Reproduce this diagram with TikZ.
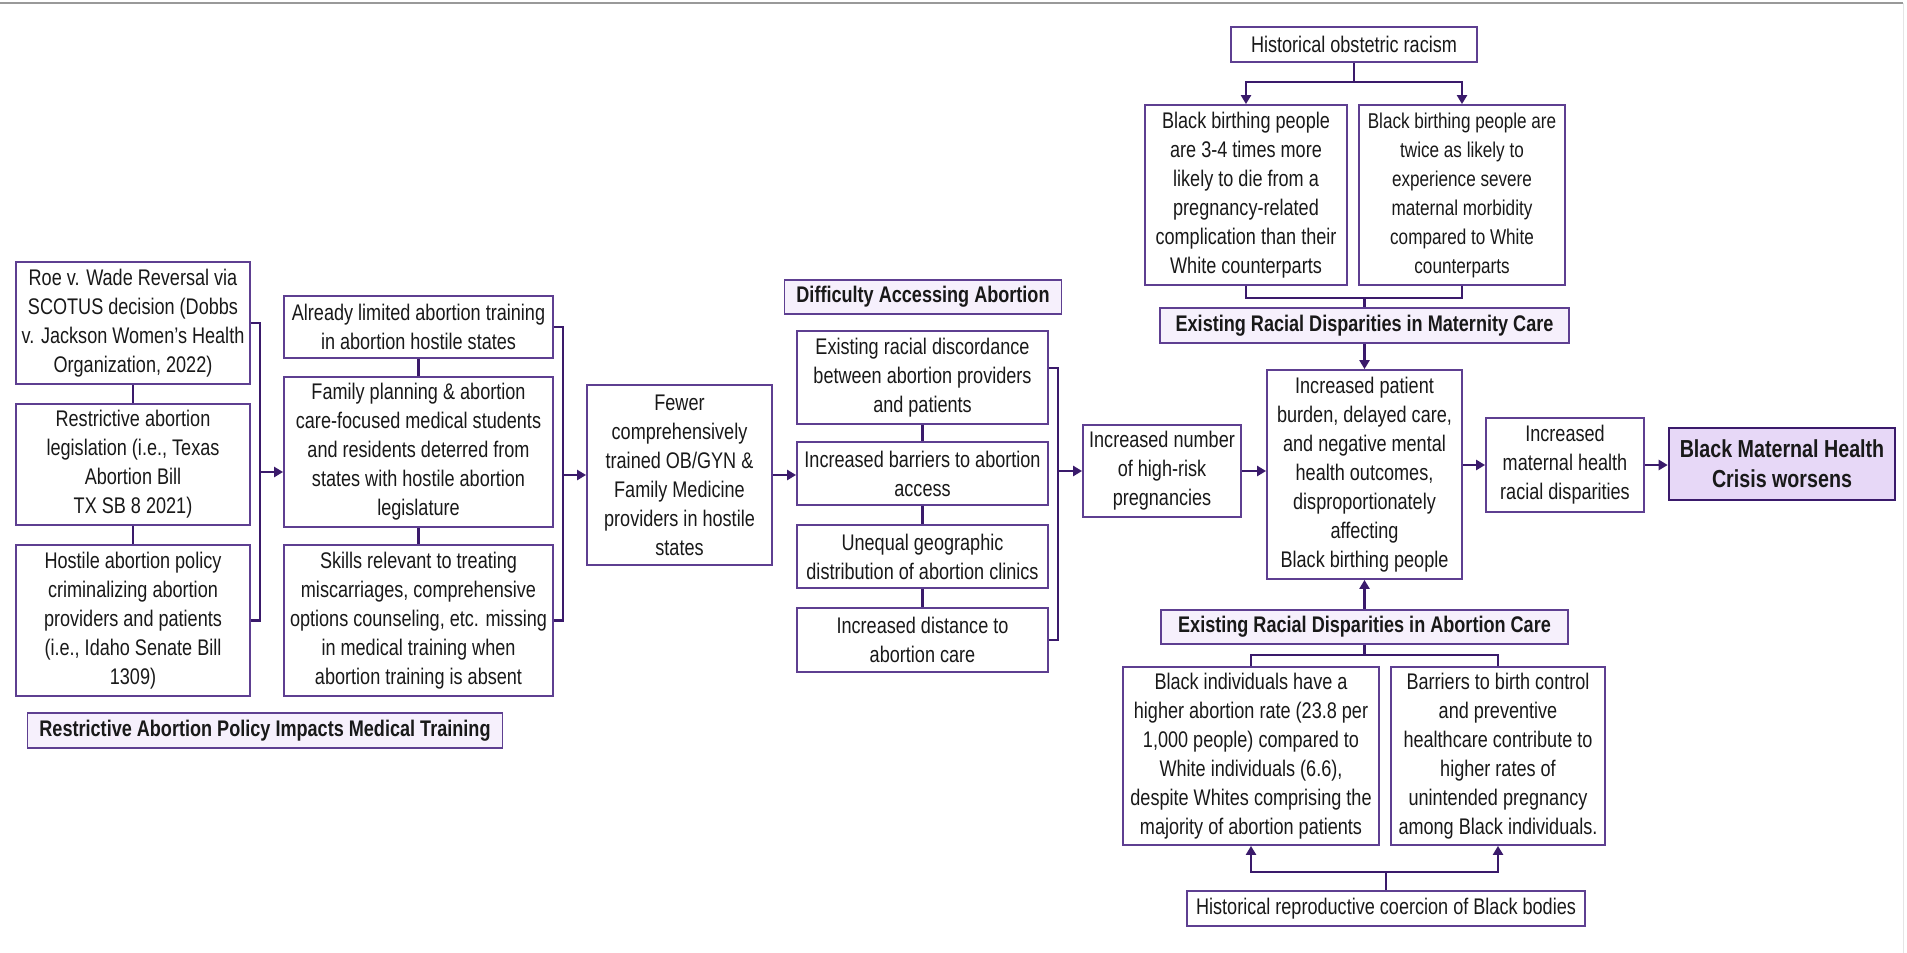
\documentclass[tikz,border=0pt]{standalone}
\usepackage{fontspec}
\setmainfont{Liberation Sans}[FakeStretch=0.8]
\usetikzlibrary{arrows.meta}
\definecolor{boxc}{HTML}{5E3F91}
\definecolor{conc}{HTML}{3A1A6B}
\definecolor{hdrfill}{HTML}{F6F0FC}
\definecolor{finfill}{HTML}{E7D8F7}
\tikzset{
 box/.style={draw=boxc, line width=0.9pt, fill=white, align=center, inner xsep=1pt, inner ysep=1pt, font=\fontsize{11.3}{14.5}\selectfont, text=black!90},
 hdr/.style={fill=hdrfill, font=\bfseries\fontsize{11.3}{14.5}\selectfont, inner xsep=6pt},
 fin/.style={fill=finfill, draw=conc, line width=1.3pt, font=\bfseries\fontsize{12.3}{15}\selectfont},
 tight/.style={font=\fontsize{10.7}{14.5}\selectfont},
 conn/.style={draw=conc, line width=1.4pt},
 arr/.style={conn, -{Triangle[length=4.5pt,width=5pt]}},
}
\newcommand\bx[7]{%
\pgfmathsetmacro\bxw{(#4-#2)*0.5}%
\pgfmathsetmacro\bxh{(#5-#3)*0.5}%
\pgfmathsetmacro\bxcx{(#2+#4)/2}%
\pgfmathsetmacro\bxcy{(#3+#5)/2}%
\node[box,#6,minimum width=\bxw pt,minimum height=\bxh pt] (#1) at (\bxcx,\bxcy) {#7};}
\begin{document}
\begin{tikzpicture}[x=0.5pt,y=-0.5pt]
\useasboundingbox (0,0) rectangle (1907,953);
\fill[white] (0,0) rectangle (1907,953);
\draw[gray!80, line width=1.3pt] (0,3) -- (1903,3);
\draw[black!10, line width=0.5pt] (1903,3) -- (1903,953);

% left column
\bx{roe}{16}{262}{250}{384}{}{Roe v. Wade Reversal via\\SCOTUS decision (Dobbs\\v. Jackson Women's Health\\Organization, 2022)}
\bx{restr}{16}{404}{250}{525}{}{Restrictive abortion\\legislation (i.e., Texas\\Abortion Bill\\TX SB 8 2021)}
\bx{hostile}{16}{545}{250}{696}{}{Hostile abortion policy\\criminalizing abortion\\providers and patients\\(i.e., Idaho Senate Bill\\1309)}
\bx{foot}{33}{713}{497}{748}{hdr}{Restrictive Abortion Policy Impacts Medical Training}

% second column
\bx{already}{284}{296}{553}{358}{}{Already limited abortion training\\in abortion hostile states}
\bx{family}{284}{377}{553}{527}{}{Family planning \& abortion\\care-focused medical students\\and residents deterred from\\states with hostile abortion\\legislature}
\bx{skills}{284}{545}{553}{696}{}{Skills relevant to treating\\miscarriages, comprehensive\\options counseling, etc. missing\\in medical training when\\abortion training is absent}

% fewer
\bx{fewer}{587}{385}{772}{565}{}{Fewer\\comprehensively\\trained OB/GYN \&\\Family Medicine\\providers in hostile\\states}

% third column
\bx{diff}{791}{280}{1055}{314}{hdr}{Difficulty Accessing Abortion}
\bx{racial}{797}{331}{1048}{424}{}{Existing racial discordance\\between abortion providers\\and patients}
\bx{barr}{797}{442}{1048}{505}{}{Increased barriers to abortion\\access}
\bx{uneq}{797}{525}{1048}{588}{}{Unequal geographic\\distribution of abortion clinics}
\bx{dist}{797}{608}{1048}{672}{}{Increased distance to\\abortion care}

% middle right
\bx{num}{1083}{425}{1241}{517}{}{Increased number\\of high-risk\\pregnancies}
\bx{pat}{1267}{370}{1462}{579}{}{Increased patient\\burden, delayed care,\\and negative mental\\health outcomes,\\disproportionately\\affecting\\Black birthing people}
\bx{racdisp}{1486}{418}{1644}{512}{}{Increased\\maternal health\\racial disparities}
\bx{fin}{1669}{428}{1895}{500}{fin}{Black Maternal Health\\Crisis worsens}

% top
\bx{hist}{1231}{27}{1477}{62}{}{Historical obstetric racism}
\bx{bb1}{1145}{105}{1347}{285}{}{Black birthing people\\are 3-4 times more\\likely to die from a\\pregnancy-related\\complication than their\\White counterparts}
\bx{bb2}{1359}{105}{1565}{285}{tight}{Black birthing people are\\twice as likely to\\experience severe\\maternal morbidity\\compared to White\\counterparts}
\bx{mat}{1160}{308}{1569}{343}{hdr}{Existing Racial Disparities in Maternity Care}

% bottom
\bx{abh}{1161}{610}{1568}{644}{hdr}{Existing Racial Disparities in Abortion Care}
\bx{bi}{1123}{667}{1379}{845}{}{Black individuals have a\\higher abortion rate (23.8 per\\1,000 people) compared to\\White individuals (6.6),\\despite Whites comprising the\\majority of abortion patients}
\bx{bc}{1391}{667}{1605}{845}{}{Barriers to birth control\\and preventive\\healthcare contribute to\\higher rates of\\unintended pregnancy\\among Black individuals.}
\bx{coer}{1187}{891}{1585}{926}{}{Historical reproductive coercion of Black bodies}

% stacked connectors
\draw[conn] (roe) -- (restr) (restr) -- (hostile);
\draw[conn] (already) -- (family) (family) -- (skills);
\draw[conn] (racial) -- (barr) (barr) -- (uneq) (uneq) -- (dist);

% bracket 1
\coordinate (k1) at (260,472);
\draw[conn] (roe.east) -- (roe.east -| k1) -- (hostile.east -| k1) -- (hostile.east);
\draw[arr] (k1) -- (family.west |- k1);
% bracket 2
\coordinate (k2) at (563,475);
\draw[conn] (already.east) -- (already.east -| k2) -- (skills.east -| k2) -- (skills.east);
\draw[arr] (k2) -- (fewer.west |- k2);
% fewer to column 3
\draw[arr] (fewer.east) -- (barr.west |- fewer.east);
% bracket 3
\coordinate (k3) at (1058,471);
\coordinate (k3t) at (1058,368);
\draw[conn] (racial.east |- k3t) -- (k3t) -- (dist.east -| k3) -- (dist.east);
\draw[arr] (k3) -- (num.west |- k3);
\draw[arr] (num.east) -- (pat.west |- num.east);
\draw[arr] (pat.east |- racdisp.west) -- (racdisp.west);
\draw[arr] (racdisp.east) -- (fin.west |- racdisp.east);

% top tree
\coordinate (jt) at (0,82);
\draw[conn] (hist.south) -- (hist.south |- jt);
\draw[arr] (hist.south |- jt) -| (bb1.north);
\draw[arr] (hist.south |- jt) -| (bb2.north);
\coordinate (jb) at (0,298);
\draw[conn] (bb1.south) |- (mat.north |- jb) -| (bb2.south);
\draw[conn] (mat.north |- jb) -- (mat.north);
\draw[arr] (mat) -- (pat);

% bottom tree
\draw[arr] (abh) -- (pat);
\coordinate (jc) at (0,655);
\draw[conn] (abh.south) -- (abh.south |- jc);
\draw[conn] (bi.north) |- (abh.south |- jc) -| (bc.north);
\coordinate (jd) at (0,872);
\draw[conn] (coer.north) -- (coer.north |- jd);
\draw[arr] (coer.north |- jd) -| (bi.south);
\draw[arr] (coer.north |- jd) -| (bc.south);
\end{tikzpicture}
\end{document}
